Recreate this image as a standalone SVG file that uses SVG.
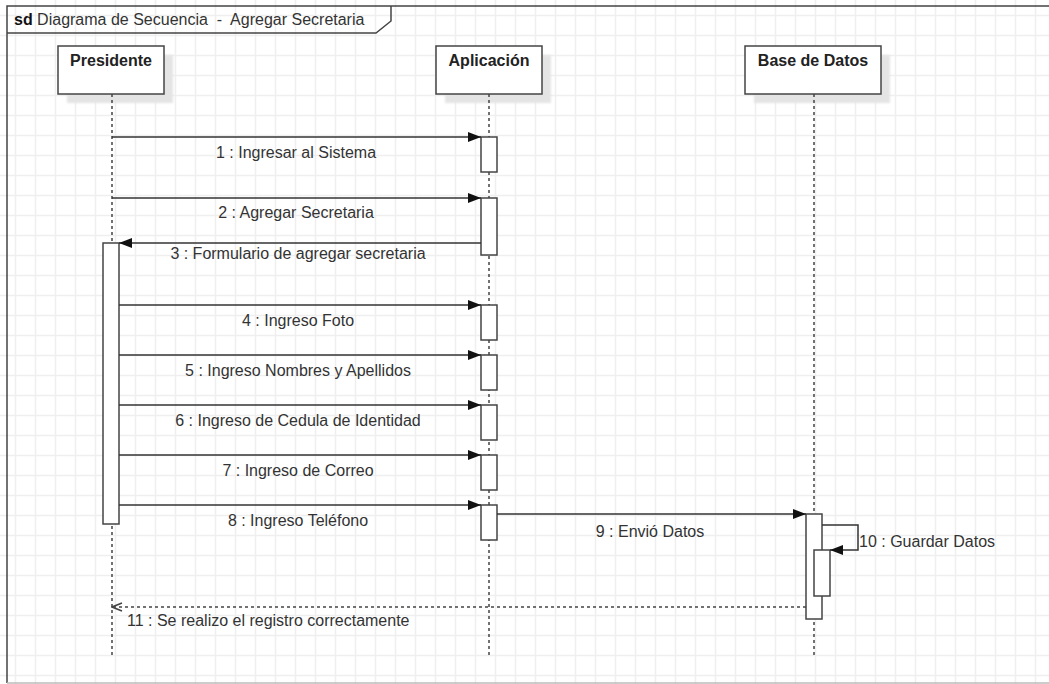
<svg xmlns="http://www.w3.org/2000/svg" width="1049" height="684" viewBox="0 0 1049 684">
  <style>
    .lbl { font-family: "Liberation Sans", Arial, sans-serif; font-size: 16px; fill: #333; white-space: pre; }
    .head { font-family: "Liberation Sans", Arial, sans-serif; font-size: 16px; font-weight: bold; fill: #222; text-anchor: middle; }
    .box { fill: #fff; stroke: #444; stroke-width: 1.5; }
    .shadow { fill: #e4e4e4; filter: url(#soft); }
    .life { stroke: #444; stroke-width: 1.5; stroke-dasharray: 3 3; fill: none; }
    .act { fill: #fff; stroke: #444; stroke-width: 1.5; }
    .msg { stroke: #333; stroke-width: 1.5; fill: none; marker-end: url(#filled); }
    .ret { stroke: #444; stroke-width: 1.5; fill: none; stroke-dasharray: 3 3; marker-end: url(#open); }
  </style>
  <defs>
    <pattern id="grid" x="0" y="0" width="20" height="20" patternUnits="userSpaceOnUse">
      <path d="M15.5 0 V20 M0 15.5 H20" stroke="#efefef" stroke-width="1.5" fill="none"/>
    </pattern>
    <filter id="soft" x="-10%" y="-10%" width="120%" height="120%">
      <feGaussianBlur stdDeviation="1"/>
    </filter>
    <marker id="filled" viewBox="0 0 13 10" refX="13" refY="5" markerWidth="13" markerHeight="10" orient="auto" markerUnits="userSpaceOnUse">
      <path d="M0,0 L13,5 L0,10 z" fill="#111"/>
    </marker>
    <marker id="open" viewBox="0 0 12 10" refX="11" refY="5" markerWidth="12" markerHeight="10" orient="auto" markerUnits="userSpaceOnUse">
      <path d="M1,1 L11,5 L1,9" fill="none" stroke="#444" stroke-width="1.5"/>
    </marker>
  </defs>

  <!-- background and grid -->
  <rect x="0" y="0" width="1049" height="684" fill="#fff"/>
  <rect x="0" y="0" width="1049" height="684" fill="url(#grid)"/>

  <!-- sequence frame -->
  <g id="frame">
    <path d="M7 683 V6 H1060" fill="none" stroke="#444" stroke-width="1.5"/>
    <path d="M7 683 H1060" fill="none" stroke="#bbb" stroke-width="1.5"/>
    <path d="M7 33 H376 L391 21 V6" fill="none" stroke="#444" stroke-width="1.5"/>
    <text x="14" y="25" class="lbl"><tspan font-weight="bold" fill="#111">sd</tspan> Diagrama de Secuencia  -  Agregar Secretaria</text>
  </g>

  <!-- lifelines -->
  <g id="presidente">
    <rect class="shadow" x="67" y="55" width="106" height="48"/>
    <rect class="box" x="58" y="46" width="106" height="48"/>
    <text class="head" x="111" y="66">Presidente</text>
    <line class="life" x1="112" y1="94" x2="112" y2="655"/>
    <rect class="act" x="103" y="243" width="16" height="281"/>
  </g>

  <g id="aplicacion">
    <rect class="shadow" x="445" y="55" width="106" height="48"/>
    <rect class="box" x="436" y="46" width="106" height="48"/>
    <text class="head" x="489" y="66">Aplicación</text>
    <line class="life" x1="489" y1="94" x2="489" y2="655"/>
    <rect class="act" x="481" y="137" width="16" height="35"/>
    <rect class="act" x="481" y="198" width="16" height="57"/>
    <rect class="act" x="481" y="305" width="16" height="35"/>
    <rect class="act" x="481" y="355" width="16" height="35"/>
    <rect class="act" x="481" y="405" width="16" height="35"/>
    <rect class="act" x="481" y="455" width="16" height="35"/>
    <rect class="act" x="481" y="505" width="16" height="35"/>
  </g>

  <g id="base-de-datos">
    <rect class="shadow" x="754" y="55" width="136" height="48"/>
    <rect class="box" x="745" y="46" width="136" height="48"/>
    <text class="head" x="813" y="66">Base de Datos</text>
    <line class="life" x1="814" y1="94" x2="814" y2="655"/>
    <rect class="act" x="806" y="514" width="16" height="105"/>
    <rect class="act" x="814" y="550" width="16" height="46"/>
  </g>

  <!-- messages -->
  <g id="connectors">
    <line class="msg" x1="112" y1="137" x2="481" y2="137"/>
    <text class="lbl" x="296" y="158" text-anchor="middle">1 : Ingresar al Sistema</text>

    <line class="msg" x1="112" y1="198" x2="481" y2="198"/>
    <text class="lbl" x="296" y="218" text-anchor="middle">2 : Agregar Secretaria</text>

    <line class="msg" x1="481" y1="243" x2="119" y2="243"/>
    <text class="lbl" x="298" y="259" text-anchor="middle">3 : Formulario de agregar secretaria</text>

    <line class="msg" x1="119" y1="305" x2="481" y2="305"/>
    <text class="lbl" x="298" y="326" text-anchor="middle">4 : Ingreso Foto</text>

    <line class="msg" x1="119" y1="355" x2="481" y2="355"/>
    <text class="lbl" x="298" y="376" text-anchor="middle">5 : Ingreso Nombres y Apellidos</text>

    <line class="msg" x1="119" y1="405" x2="481" y2="405"/>
    <text class="lbl" x="298" y="426" text-anchor="middle">6 : Ingreso de Cedula de Identidad</text>

    <line class="msg" x1="119" y1="455" x2="481" y2="455"/>
    <text class="lbl" x="298" y="476" text-anchor="middle">7 : Ingreso de Correo</text>

    <line class="msg" x1="119" y1="505" x2="481" y2="505"/>
    <text class="lbl" x="298" y="526" text-anchor="middle">8 : Ingreso Teléfono</text>

    <line class="msg" x1="497" y1="514" x2="806" y2="514"/>
    <text class="lbl" x="650" y="537" text-anchor="middle">9 : Envió Datos</text>

    <polyline class="msg" points="822,525 858,525 858,550 830,550"/>
    <text class="lbl" x="859" y="547">10 : Guardar Datos</text>

    <line class="ret" x1="806" y1="607" x2="112" y2="607"/>
    <text class="lbl" x="127" y="626">11 : Se realizo el registro correctamente</text>
  </g>
</svg>
